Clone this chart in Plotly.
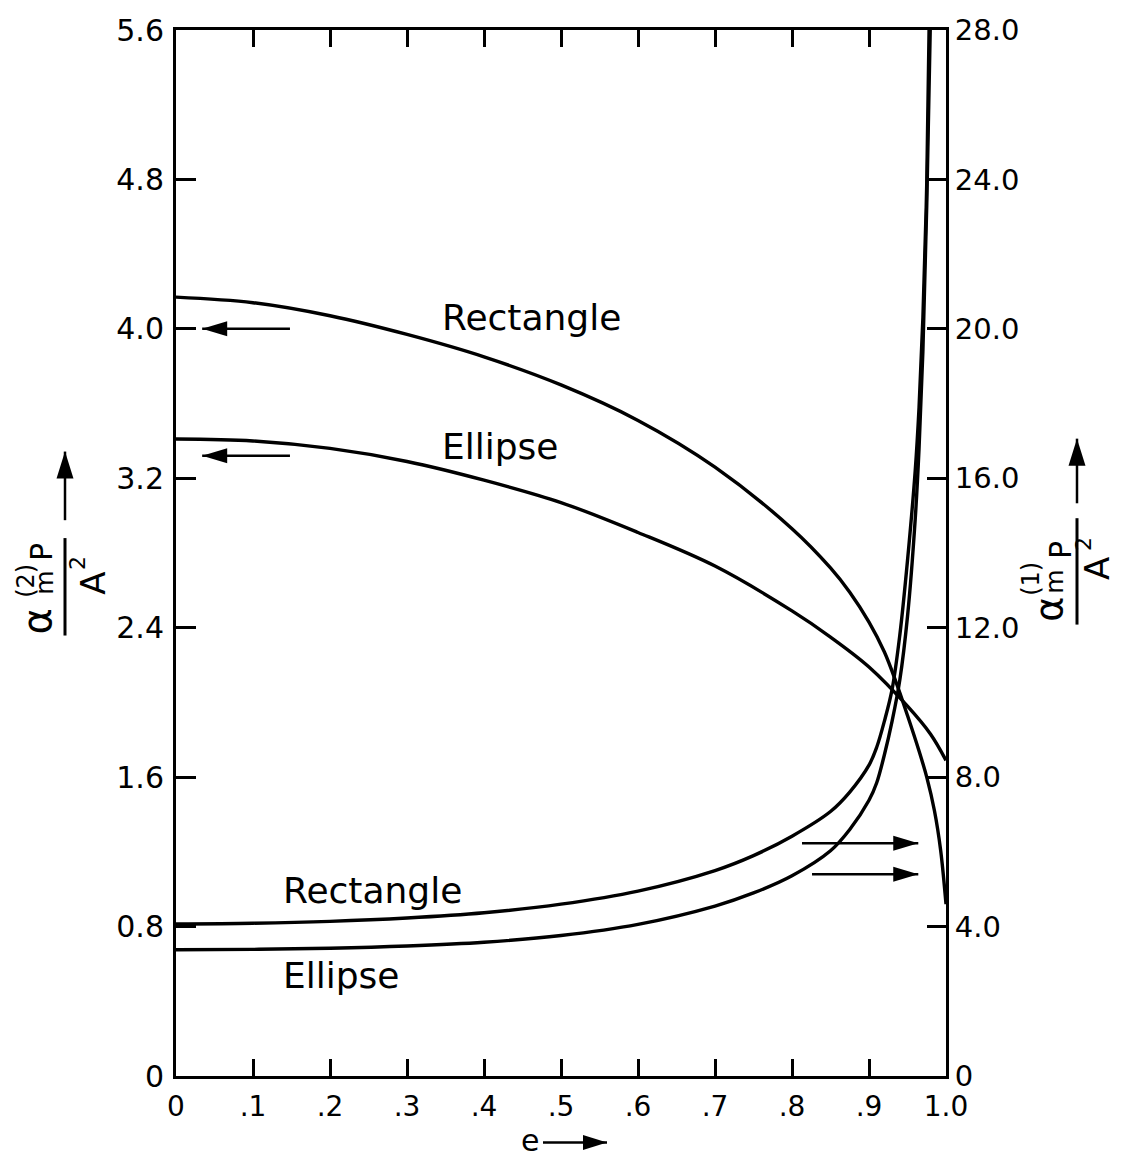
import plotly.graph_objects as go

# ---- data -------------------------------------------------------------
# second-order magnetic polarizability (left axis)
e_rect2 = [0, .1, .2, .3, .4, .5, .6, .7, .8, .85, .875, .9, .92, .935, .95, .965,
           .975, .985, .993, 1.0]
rect2 = [4.17, 4.14, 4.07, 3.97, 3.85, 3.70, 3.51, 3.26, 2.93, 2.72, 2.59, 2.43, 2.27,
         2.11, 1.93, 1.74, 1.60, 1.42, 1.21, 0.92]

e_ell2 = [0, .1, .2, .3, .4, .5, .6, .7, .8, .85, .9, .95, .98, 1.0]
ell2 = [3.41, 3.40, 3.36, 3.29, 3.19, 3.07, 2.91, 2.73, 2.49, 2.35, 2.19, 1.98, 1.83, 1.69]

# first-order magnetic polarizability (right axis)
e_rect1 = [0, .1, .2, .3, .4, .5, .6, .7, .75, .8, .85, .875, .9, .91, .92, .93, .94,
           .95, .96, .965, .97, .975, .978]
rect1 = [4.07, 4.09, 4.14, 4.23, 4.37, 4.60, 4.95, 5.50, 5.90, 6.42, 7.08, 7.60, 8.32,
         8.80, 9.50, 10.35, 11.8, 13.8, 16.2, 17.9, 20.3, 23.9, 28.0]

e_ell1 = [0, .1, .2, .3, .4, .5, .6, .7, .75, .8, .85, .875, .9, .91, .92, .93, .94,
          .95, .96, .965, .97, .975, .98]
ell1 = [3.38, 3.39, 3.42, 3.48, 3.58, 3.76, 4.06, 4.55, 4.90, 5.36, 6.03, 6.60, 7.38,
        7.85, 8.60, 9.50, 10.6, 12.3, 14.9, 16.8, 19.4, 23.3, 28.5]

x_ticks = [0, .1, .2, .3, .4, .5, .6, .7, .8, .9, 1.0]
x_labels = ["0", ".1", ".2", ".3", ".4", ".5", ".6", ".7", ".8", ".9", "1.0"]
yl_ticks = [0, .8, 1.6, 2.4, 3.2, 4.0, 4.8, 5.6]
yl_labels = ["0", "0.8", "1.6", "2.4", "3.2", "4.0", "4.8", "5.6"]
yr_ticks = [0, 4, 8, 12, 16, 20, 24, 28]
yr_labels = ["0", "4.0", "8.0", "12.0", "16.0", "20.0", "24.0", "28.0"]

# ---- layout geometry ----------------------------------------------------
FW, FH = 1121, 1161
L, T, W, H = 176, 24, 770, 1052
FONT = "DejaVu Sans"
INK = "black"


def px(x, y):
    """pixel position on the page -> paper coordinates"""
    return (x - L) / W, (T + H - y) / H


fig = go.Figure()
line = dict(color=INK, width=3.4, shape="spline", smoothing=1.0)
fig.add_trace(go.Scatter(x=e_rect2, y=rect2, mode="lines", line=line, yaxis="y"))
fig.add_trace(go.Scatter(x=e_ell2, y=ell2, mode="lines", line=line, yaxis="y"))
fig.add_trace(go.Scatter(x=e_rect1, y=rect1, mode="lines", line=line, yaxis="y2"))
fig.add_trace(go.Scatter(x=e_ell1, y=ell1, mode="lines", line=line, yaxis="y2"))


def arrow(x0, y0, x1, y1, xref, yref, head_len=25, head_w=15, width=2.5):
    fig.add_shape(type="line", x0=x0, y0=y0, x1=x1, y1=y1, xref=xref, yref=yref,
                  line=dict(color=INK, width=width))
    if y0 == y1:
        s = 1 if x1 > x0 else -1
        path = f"M0,0 L{-s*head_len},{head_w/2} L{-s*head_len},{-head_w/2} Z"
    else:
        s = 1 if y1 > y0 else -1
        path = f"M0,0 L{head_w/2},{-s*head_len} L{-head_w/2},{-s*head_len} Z"
    fig.add_shape(type="path", xref=xref, yref=yref, xsizemode="pixel",
                  ysizemode="pixel", xanchor=x1, yanchor=y1, path=path,
                  fillcolor=INK, line=dict(width=0))


def text(x, y, s, size, xref="paper", yref="paper", angle=0, xanchor="center",
         yanchor="middle"):
    fig.add_annotation(x=x, y=y, xref=xref, yref=yref, text=s, showarrow=False,
                       textangle=angle, xanchor=xanchor, yanchor=yanchor,
                       font=dict(family=FONT, size=size, color=INK))


# curve labels
text(0.343, 4.06, "Rectangle", 36, "x", "y", xanchor="left")
text(0.343, 3.37, "Ellipse", 36, "x", "y", xanchor="left")
text(0.137, 0.995, "Rectangle", 36, "x", "y", xanchor="left")
text(0.137, 0.54, "Ellipse", 36, "x", "y", xanchor="left")

# arrows telling which axis each pair of curves belongs to
arrow(0.148, 4.0, 0.034, 4.0, "x", "y")
arrow(0.148, 3.32, 0.034, 3.32, "x", "y")
arrow(0.813, 6.23, 0.964, 6.23, "x", "y2")
arrow(0.826, 5.40, 0.964, 5.40, "x", "y2")

# left axis title:  alpha_m^(2) P / A^2
x, y = px(37, 619); text(x, y, "α", 40, angle=-90)
x, y = px(26, 578); text(x, y, "(2)", 24, angle=-90)
x, y = px(45, 580); text(x, y, "m", 25, angle=-90)
x, y = px(41, 549); text(x, y, "P", 30, angle=-90)
x, y = px(93, 581); text(x, y, "A", 34, angle=-90)
x, y = px(78, 560); text(x, y, "2", 22, angle=-90)
x0, y0 = px(65, 535); x1, y1 = px(65, 633)
fig.add_shape(type="line", x0=x0, y0=y0, x1=x1, y1=y1, xref="paper", yref="paper",
              line=dict(color=INK, width=3))
x0, y0 = px(65, 517); x1, y1 = px(65, 448)
arrow(x0, y0, x1, y1, "paper", "paper", head_len=27, head_w=17)

# right axis title:  alpha_m^(1) P / A^2
x, y = px(1049, 607); text(x, y, "α", 38, angle=-90)
x, y = px(1031, 576); text(x, y, "(1)", 24, angle=-90)
x, y = px(1055, 579); text(x, y, "m", 25, angle=-90)
x, y = px(1060, 547); text(x, y, "P", 30, angle=-90)
x, y = px(1097, 566); text(x, y, "A", 34, angle=-90)
x, y = px(1083, 541); text(x, y, "2", 22, angle=-90)
x0, y0 = px(1077, 515); x1, y1 = px(1077, 622)
fig.add_shape(type="line", x0=x0, y0=y0, x1=x1, y1=y1, xref="paper", yref="paper",
              line=dict(color=INK, width=3))
x0, y0 = px(1077, 500); x1, y1 = px(1077, 435)
arrow(x0, y0, x1, y1, "paper", "paper", head_len=27, head_w=17)

# x axis title:  e -->
x, y = px(530, 1160); text(x, y, "e", 30, yanchor="bottom")
x0, y0 = px(543, 1143); x1, y1 = px(607, 1143)
arrow(x0, y0, x1, y1, "paper", "paper", head_len=24, head_w=15)

axis_common = dict(showgrid=False, zeroline=False, showline=True, linecolor=INK,
                   linewidth=3, ticks="inside", tickcolor=INK, tickwidth=2.5,
                   fixedrange=True)

fig.update_layout(
    width=FW, height=FH,
    margin=dict(l=L, r=FW - L - W, t=T, b=FH - T - H),
    paper_bgcolor="white", plot_bgcolor="white",
    showlegend=False,
    xaxis=dict(range=[0, 1.0], tickmode="array", tickvals=x_ticks, ticktext=x_labels,
               ticklen=17, mirror="ticks", ticklabelstandoff=3,
               tickfont=dict(family=FONT, size=28, color=INK), **axis_common),
    yaxis=dict(range=[0, 5.6], tickmode="array", tickvals=yl_ticks, ticktext=yl_labels,
               ticklen=20, ticklabelstandoff=3,
               tickfont=dict(family=FONT, size=30, color=INK), **axis_common),
    yaxis2=dict(range=[0, 28], tickmode="array", tickvals=yr_ticks, ticktext=yr_labels,
                ticklen=19, overlaying="y", side="right", ticklabelstandoff=0,
                tickfont=dict(family=FONT, size=29, color=INK), **axis_common),
)

fig.write_html("out.html")
